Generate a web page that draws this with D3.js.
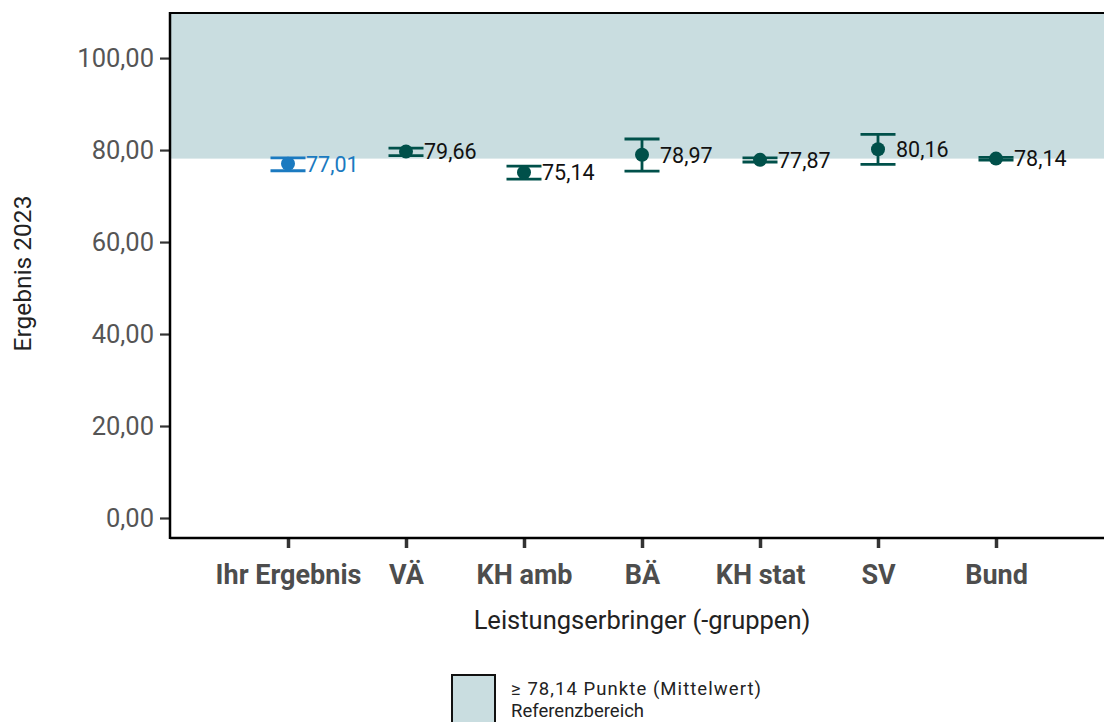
<!DOCTYPE html>
<html><head><meta charset="utf-8">
<script src="https://cdn.jsdelivr.net/npm/d3@7"></script>
<style>body{margin:0;background:#fff}svg{display:block;font-family:Roboto,sans-serif}</style>
</head><body>
<script>
const categories = ["Ihr Ergebnis","VÄ","KH amb","BÄ","KH stat","SV","Bund"];
const values = [77.01,79.66,75.14,78.97,77.87,80.16,78.14];
const lower = [75.5,78.8,73.7,75.4,77.4,76.9,77.8];
const upper = [78.3,80.4,76.5,82.4,78.3,83.4,78.4];
const labels = ["77,01","79,66","75,14","78,97","77,87","80,16","78,14"];
const yTicks = [0,20,40,60,80,100];
const refValue = 78.14;
const legendLines = ["≥ 78,14 Punkte (Mittelwert)","Referenzbereich"];

(function(){
const W=1104,H=722;
const svg=d3.select("body").append("svg").attr("width",W).attr("height",H);
const pL=170, pT=13, pB=538, pR=1114;
const y=d3.scaleLinear().domain([-4.35,109.8]).range([pB,pT]);
const x=d3.scalePoint().domain(categories).range([pL,pR]).padding(1);

const col=(i)=> i===0?"#1b7ac0":"#00504a";

// reference area
svg.append("rect").attr("x",pL).attr("y",pT).attr("width",pR-pL).attr("height",y(refValue)-pT).attr("fill","#c9dde0");
// top border
svg.append("line").attr("x1",pL).attr("x2",W).attr("y1",pT).attr("y2",pT).attr("stroke","#000").attr("stroke-width",2);

// y axis
const ya=svg.append("g").attr("transform",`translate(${pL},0)`)
  .call(d3.axisLeft(y).tickValues(yTicks).tickSize(10).tickPadding(6).tickFormat(d=>d3.format(".2f")(d).replace(".",",")));
ya.select(".domain").remove();
ya.selectAll(".tick line").attr("stroke","#333").attr("stroke-width",2.2);
ya.selectAll(".tick text").attr("fill","#555").attr("font-size",25.5).attr("font-family","Roboto");
svg.append("line").attr("x1",pL).attr("x2",pL).attr("y1",pT-1).attr("y2",pB+1).attr("stroke","#000").attr("stroke-width",2.5);

// x axis
const xa=svg.append("g").attr("transform",`translate(0,${pB})`)
  .call(d3.axisBottom(x).tickSize(10).tickPadding(17));
xa.select(".domain").remove();
xa.selectAll(".tick line").attr("stroke","#333").attr("stroke-width",3.5);
xa.selectAll(".tick text").attr("fill","#4d4d4d").attr("font-size",27).attr("font-weight","bold").attr("font-family","Roboto");
svg.append("line").attr("x1",pL).attr("x2",W).attr("y1",pB).attr("y2",pB).attr("stroke","#000").attr("stroke-width",2.5);

// error bars
const g=svg.append("g");
const hw=17.5;
categories.forEach((c,i)=>{
  const cx=x(c);
  const e=g.append("g").attr("stroke",col(i)).attr("stroke-width",2.8);
  e.append("line").attr("x1",cx).attr("x2",cx).attr("y1",y(lower[i])).attr("y2",y(upper[i]));
  e.append("line").attr("x1",cx-hw).attr("x2",cx+hw).attr("y1",y(lower[i])).attr("y2",y(lower[i]));
  e.append("line").attr("x1",cx-hw).attr("x2",cx+hw).attr("y1",y(upper[i])).attr("y2",y(upper[i]));
  g.append("circle").attr("cx",cx).attr("cy",y(values[i])).attr("r",7).attr("fill",col(i));
  g.append("text").attr("x",cx+18).attr("y",y(values[i])).attr("dy","0.36em")
    .attr("fill",i===0?col(0):"#111").attr("font-size",21.5).text(labels[i]);
});

// titles
svg.append("text").attr("x",642).attr("y",629).attr("text-anchor","middle").attr("font-size",25.5).attr("fill","#222").text("Leistungserbringer (-gruppen)");
svg.append("text").attr("transform",`translate(31,${(pT+pB)/2-2}) rotate(-90)`).attr("text-anchor","middle").attr("font-size",24.5).attr("fill","#222").text("Ergebnis 2023");

// legend
svg.append("rect").attr("x",452).attr("y",675).attr("width",43).attr("height",50).attr("fill","#c9dde0").attr("stroke","#111").attr("stroke-width",2);
legendLines.forEach((t,i)=>svg.append("text").attr("x",511).attr("y",695+i*22).attr("font-size",18.5).attr("textLength",i===0?250:null).attr("fill","#222").text(t));
})();
</script>
</body></html>
